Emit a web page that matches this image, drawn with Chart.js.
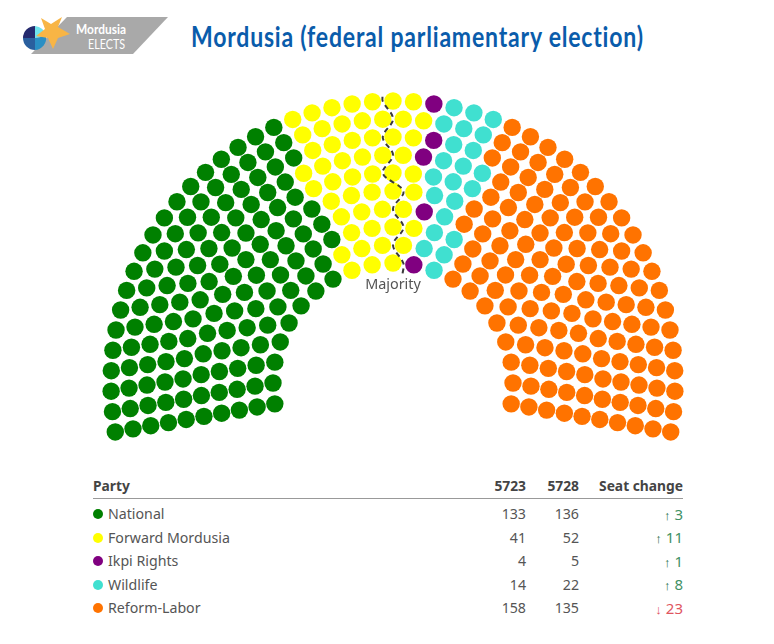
<!DOCTYPE html>
<html>
<head>
<meta charset="utf-8">
<title>Mordusia (federal parliamentary election)</title>
<script src="https://cdn.jsdelivr.net/npm/chart.js@4/dist/chart.umd.min.js"></script>
<style>
  html, body { margin: 0; padding: 0; background: #fff; }
  body { width: 774px; height: 644px; position: relative; overflow: hidden; font-family: "Noto Sans", sans-serif; }
  #logo { position: absolute; left: 0; top: 0; }
  h1 { position: absolute; left: 191px; top: 17px; margin: 0; font: 700 29px/38px Lato, sans-serif; color: #0a5cab; letter-spacing: 1px; white-space: nowrap; transform: scaleX(0.794); transform-origin: left center; }
  #seatChart { position: absolute; left: 0; top: 70px; }
  table { position: absolute; left: 93px; top: 473px; width: 590px; border-collapse: collapse; font-size: 14.2px; color: #555; }
  th { font-weight: 700; font-size: 13.8px; color: #444; text-align: right; height: 25px; padding: 0; border-bottom: 1px solid #999; }
  td { text-align: right; height: 23.5px; padding: 0; }
  tr.gap td { height: 3px; font-size: 0; line-height: 0; }
  th:first-child, td:first-child { text-align: left; }
  .dot { display: inline-block; width: 10px; height: 10px; border-radius: 50%; margin-right: 5px; position: relative; top: -1px; vertical-align: middle; }
  .up { color: #3f9165; font-size: 15px; }
  .down { color: #e0565f; font-size: 15px; }
  .arrow { font-size: 13px; font-weight: 700; margin-right: 4px; }
  .up .arrow { color: #1c6b45; }
</style>
</head>
<body>
<svg id="logo" width="180" height="60" viewBox="0 0 180 60">
  <polygon points="67,17 168,17 133,54 31,54" fill="#a9a9a9"/>
  <path d="M23,38 A12,12 0 0 1 35,26 L35,38 Z" fill="#252a6e"/>
  <path d="M35,38 L35,26 A12,12 0 0 1 46,36 Z" fill="#70e4ee"/>
  <path d="M35,38 L46,36 A12,12 0 0 1 35,50 Z" fill="#2a8fc4"/>
  <path d="M35,38 L35,50 A12,12 0 0 1 23,38 Z" fill="#2a5f9e"/>
  <polygon points="62,17 58,27 70,34 58,38 53,49 48,38 36,36 45,29 41,18 51,24" fill="#f8b545"/>
  <text x="76" y="34" textLength="50" lengthAdjust="spacingAndGlyphs" font-family="Lato" font-weight="700" font-size="13" fill="#fff">Mordusia</text>
  <text x="88" y="49" textLength="37" lengthAdjust="spacingAndGlyphs" font-family="Lato" font-size="13" fill="#fff">ELECTS</text>
</svg>
<h1>Mordusia (federal parliamentary election)</h1>
<canvas id="seatChart" width="774" height="400"></canvas>
<table id="results"></table>
<script>
// seats in each row of the chamber, inner row first
const rowSeats = [21, 24, 27, 30, 33, 37, 40, 43, 46, 49];

// how many seats each party holds in each row, going left to right
const nationalRows = [8, 9, 11, 12, 13, 14, 15, 17, 18, 19];
const forwardRows = [3, 4, 4, 4, 5, 6, 6, 6, 7, 7];
const ikpiRows = [1, 0, 0, 1, 0, 0, 1, 1, 0, 1];
const wildlifeRows = [1, 2, 2, 1, 2, 3, 3, 2, 3, 3];
const reformRows = [8, 9, 10, 12, 13, 14, 15, 17, 18, 19];

// seats left of the majority line in each row
const majorityRows = [11, 12, 14, 15, 17, 18, 20, 21, 23, 24];

const parties = ['National', 'Forward Mordusia', 'Ikpi Rights', 'Wildlife', 'Reform-Labor'];
const seats5723 = [133, 41, 4, 14, 158];
const seats5728 = [136, 52, 5, 22, 135];
const seatChange = [3, 11, 1, 8, -23];
const partyColors = ['#008000', '#ffff00', '#800080', '#40e0d0', '#ff7300'];

const partyRows = [nationalRows, forwardRows, ikpiRows, wildlifeRows, reformRows];

// hemicycle layout, scale units are pixels
const innerRadius = 120;
const rowGap = 18;
const sweep = 200;

function seatPoint(row, seat, radius) {
    const r = radius === undefined ? innerRadius + row * rowGap : radius;
    const deg = 190 - seat * sweep / (rowSeats[row] - 1);
    const a = deg * Math.PI / 180;
    return { x: r * Math.cos(a), y: r * Math.sin(a) };
}

const datasets = [];
const rowStart = rowSeats.map(() => 0);
parties.forEach((name, p) => {
    const points = [];
    partyRows[p].forEach((count, row) => {
        for (let i = 0; i < count; i++) {
            points.push(seatPoint(row, rowStart[row] + i));
        }
        rowStart[row] += count;
    });
    datasets.push({
        label: name,
        data: points,
        backgroundColor: partyColors[p],
        pointRadius: 8.7,
        borderWidth: 0
    });
});

// majority line runs through the gap between two seats in every row
const majorityPoints = [];
majorityRows.forEach((left, row) => {
    const mid = left - 0.5;
    if (row === 0) majorityPoints.push(seatPoint(row, mid, innerRadius - 10));
    majorityPoints.push(seatPoint(row, mid));
    if (row === rowSeats.length - 1) majorityPoints.push(seatPoint(row, mid, innerRadius + row * rowGap + 6));
});
datasets.push({
    label: 'Majority',
    data: majorityPoints,
    showLine: true,
    order: -1,
    pointRadius: 0,
    borderColor: '#3a3a3a',
    borderWidth: 2,
    borderDash: [5, 4],
    tension: 0.35
});

const majorityLabel = {
    id: 'majorityLabel',
    afterDatasetsDraw(chart) {
        const { ctx, scales } = chart;
        ctx.save();
        ctx.font = '14.4px "Noto Sans", sans-serif';
        ctx.fillStyle = '#555';
        ctx.textAlign = 'center';
        ctx.textBaseline = 'middle';
        ctx.fillText('Majority', scales.x.getPixelForValue(0), scales.y.getPixelForValue(98));
        ctx.restore();
    }
};

new Chart(document.getElementById('seatChart').getContext('2d'), {
    type: 'scatter',
    data: { datasets },
    options: {
        responsive: false,
        animation: false,
        layout: { padding: 0, autoPadding: false },
        plugins: { legend: { display: false }, tooltip: { enabled: false } },
        scales: {
            x: { type: 'linear', display: false, min: -393, max: 381 },
            y: { type: 'linear', display: false, min: -87, max: 313 }
        }
    },
    plugins: [majorityLabel]
});

// results table under the chart
let rows = '<tr><th>Party</th><th style="width:60px">5723</th><th style="width:53px">5728</th><th style="width:104px">Seat change</th></tr><tr class="gap"><td colspan="4"></td></tr>';
parties.forEach((name, i) => {
    const change = seatChange[i];
    const cls = change >= 0 ? 'up' : 'down';
    const arrow = change >= 0 ? '↑' : '↓';
    rows += '<tr><td><span class="dot" style="background:' + partyColors[i] + '"></span>' + name + '</td>' +
        '<td>' + seats5723[i] + '</td><td>' + seats5728[i] + '</td>' +
        '<td class="' + cls + '"><span class="arrow">' + arrow + '</span>' + Math.abs(change) + '</td></tr>';
});
document.getElementById('results').innerHTML = rows;
</script>
</body>
</html>
